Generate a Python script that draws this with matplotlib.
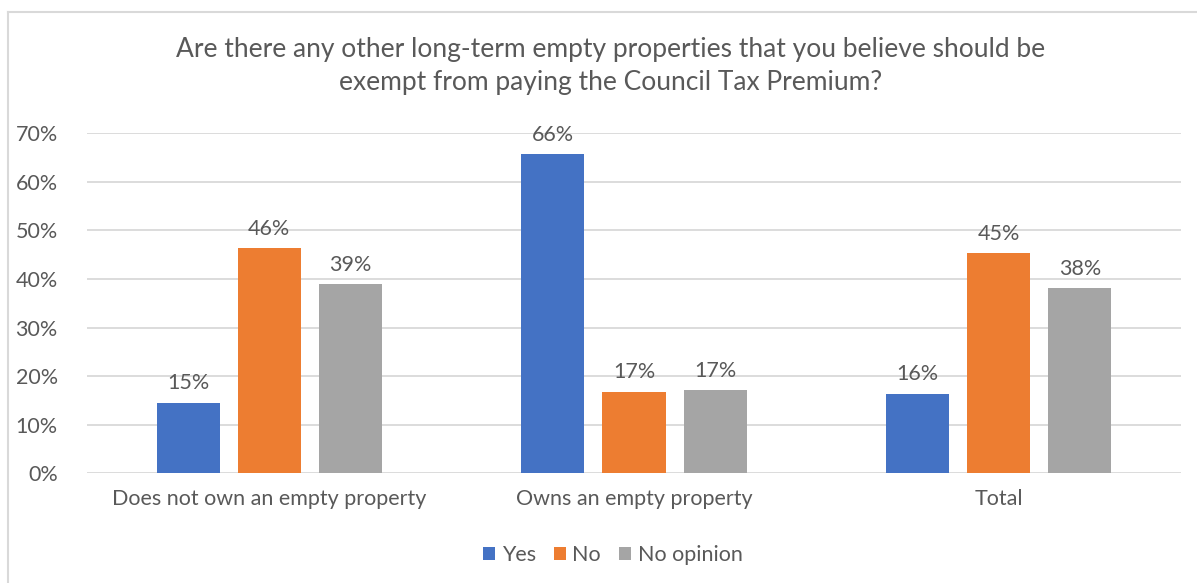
import matplotlib.pyplot as plt
from matplotlib.lines import Line2D
from matplotlib.patches import Patch
import numpy as np

categories = ['Does not own an empty property', 'Owns an empty property', 'Total']
series = ['Yes', 'No', 'No opinion']
yes_vals = [14.5, 65.7, 16.3]
no_vals = [46.3, 16.8, 45.3]
noop_vals = [38.9, 17.1, 38.1]
value_labels = [['15%', '66%', '16%'], ['46%', '17%', '45%'], ['39%', '17%', '38%']]
colors = ['#4472C4', '#ED7D31', '#A5A5A5']
title = ('Are there any other long-term empty properties that you believe should be\n'
         'exempt from paying the Council Tax Premium?')

text_col = '#595959'
plt.rcParams['font.family'] = ['Lato', 'DejaVu Sans']
fs = 15.5

fig = plt.figure(figsize=(11.97, 5.83), dpi=100)
ax = fig.add_axes([0.0727, 0.1882, 0.9139, 0.5831])

x = np.arange(len(categories))
width = 0.173
offset = 0.2225
for i, vals in enumerate([yes_vals, no_vals, noop_vals]):
    pos = x + (i - 1) * offset
    ax.bar(pos, vals, width, color=colors[i], zorder=3, label=series[i])
    for p, v, lab in zip(pos, vals, value_labels[i]):
        ax.text(p, v + 2.0, lab, ha='center', va='bottom', fontsize=fs, color=text_col)

ax.set_xlim(-0.5, 2.5)
ax.set_ylim(0, 70)
ax.set_yticks(np.arange(0, 71, 10))
ax.set_yticklabels([f'{t}%' for t in range(0, 71, 10)])
ax.set_xticks(x)
ax.set_xticklabels(categories)
ax.tick_params(axis='both', length=0, labelsize=fs, colors=text_col)
ax.tick_params(axis='x', pad=11)
ax.tick_params(axis='y', pad=21)
ax.grid(axis='y', color='#D9D9D9', linewidth=1.3, zorder=0)
for s in ax.spines.values():
    s.set_visible(False)

fig.text(0.51, 0.886, title, ha='center', va='center', fontsize=19, color=text_col,
         linespacing=1.4)

handles = [Patch(facecolor=c, edgecolor='none') for c in colors]
fig.legend(handles, series, loc='center', bbox_to_anchor=(0.512, 0.048), ncol=3,
           frameon=False, fontsize=fs, labelcolor=text_col, handlelength=0.55,
           handleheight=0.6, handletextpad=0.3, columnspacing=0.85)

# chart frame
fig.add_artist(Line2D([8 / 1197, 8 / 1197], [0, 1 - 12 / 583], color='#D9D9D9', lw=1.5,
                      transform=fig.transFigure))
fig.add_artist(Line2D([8 / 1197, 1], [1 - 12 / 583, 1 - 12 / 583], color='#D9D9D9', lw=1.5,
                      transform=fig.transFigure))

fig.savefig('out.png', dpi=100)
